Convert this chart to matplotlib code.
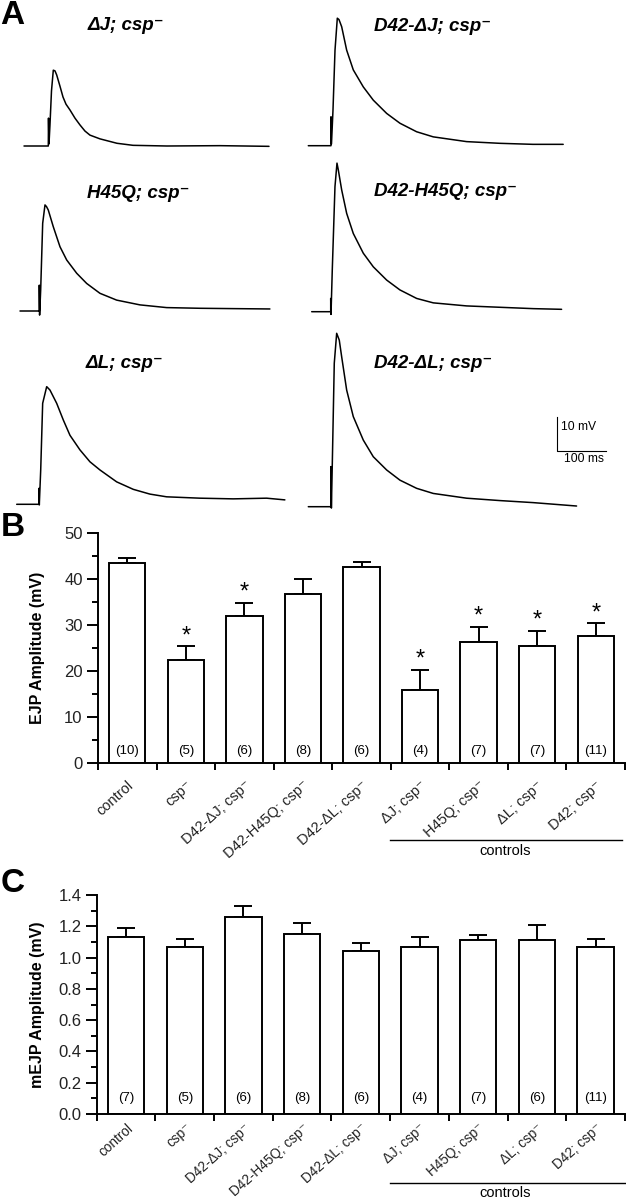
import matplotlib
matplotlib.use('Agg')
import matplotlib.pyplot as plt
from matplotlib.ticker import MultipleLocator, FormatStrFormatter
from matplotlib.lines import Line2D

plt.rcParams['font.family'] = ['Liberation Sans', 'DejaVu Sans']

W, H = 626, 1200
MS_PER_PX = 100 / 49.
MV_PER_PX = 10 / 34.

# Panel A: example EJP traces, time (ms) from trace start, mV above baseline
dj_t = [0, 49.6, 50.0, 51.0, 53.0, 56.1, 59.8, 63.2, 66.7, 73.4, 79.6, 85.7,
        93.8, 104, 114.2, 124.4, 134.6, 155, 189.7, 222.4, 291.7, 399.8, 500]
dj_v = [0, 0, 8.2, 0.6, 6.2, 16.2, 22.3, 22.1, 20.9, 17.6, 14.4, 12.3,
        10.6, 8.2, 6.2, 4.4, 3.2, 2.1, 0.8, 0.2, 0, 0.1, -0.1]

d42dj_t = [0, 46.3, 46.3, 47.3, 50.4, 54.5, 59.2, 62.6, 68.1, 78.3, 91.8,
           112.2, 132.6, 159.9, 187.1, 221.1, 255, 323.1, 391.1, 458.4, 520.2]
d42dj_v = [0, 0, 8.5, 0.5, 10.5, 28.1, 37.5, 37.1, 35.0, 28.1, 22.3,
           17.3, 13.4, 9.5, 6.6, 4.1, 2.6, 1.2, 0.7, 0.4, 0.4]

h45q_t = [0, 39.4, 39.4, 40.0, 42.2, 46.3, 51, 54.1, 57.7, 67.9, 81.6, 95.3,
          115.7, 136.1, 163.2, 197.3, 244.8, 299.3, 367.2, 435.1, 510]
h45q_v = [0, 0, 7.6, -1.2, 6.2, 25.8, 31.2, 30.7, 29.7, 24.8, 18.9, 15.0,
          11.1, 8.1, 5.2, 3.2, 1.8, 1.0, 0.8, 0.7, 0.6]

d42h45q_t = [0, 38.8, 38.8, 39.4, 42.0, 47.5, 51.6, 54.3, 61.2, 71.4, 84.9,
             105.3, 125.7, 153, 180.1, 214.2, 248.1, 316.2, 384.1, 452.1, 510]
d42h45q_v = [0, 0, 3.9, -0.8, 12.3, 36.8, 43.7, 41.7, 35.8, 28.9, 23.0,
             17.2, 13.2, 9.3, 6.4, 3.9, 2.6, 1.7, 1.3, 0.9, 0.7]

dl_t = [0, 45.5, 45.5, 46.1, 49, 53, 61.2, 67.9, 81.6, 95.1, 108.7, 129.1,
        149.5, 169.9, 204, 237.9, 271.9, 306, 374, 441.9, 510, 547.3]
dl_v = [0, 0, 4.7, -0.2, 10.1, 29.7, 34.6, 33.6, 29.7, 24.8, 20.3, 16,
        12.5, 10.1, 6.6, 4.4, 3.0, 2.2, 1.8, 1.6, 1.8, 1.3]

d42dl_t = [0, 46.3, 46.3, 47.1, 49, 53, 57.9, 63.2, 68.1, 78.3, 91.8, 112.2,
           132.6, 159.9, 187.1, 221.1, 255, 323.1, 391.1, 459, 547.5]
d42dl_v = [0, 0, 11.8, -0.4, 12.8, 42.2, 51, 49, 44.1, 34.3, 26.5, 19.6,
           14.7, 10.8, 7.8, 5.4, 3.9, 2.5, 1.8, 1.2, 0.2]

trace_labels = ['\u0394J; csp\u207b', 'D42-\u0394J; csp\u207b',
                'H45Q; csp\u207b', 'D42-H45Q; csp\u207b',
                '\u0394L; csp\u207b', 'D42-\u0394L; csp\u207b']

# Panels B and C
genotypes = ['control', 'csp\u207b', 'D42-\u0394J; csp\u207b',
             'D42-H45Q; csp\u207b', 'D42-\u0394L; csp\u207b',
             '\u0394J; csp\u207b', 'H45Q; csp\u207b', '\u0394L; csp\u207b',
             'D42; csp\u207b']
ejp_mean = [43.5, 22.3, 32.0, 36.8, 42.7, 15.9, 26.2, 25.4, 27.7]
ejp_sem = [1.1, 3.1, 2.8, 3.1, 1.1, 4.3, 3.4, 3.4, 2.7]
ejp_n = [10, 5, 6, 8, 6, 4, 7, 7, 11]
ejp_sig = [False, True, True, False, False, True, True, True, True]

mejp_mean = [1.13, 1.07, 1.26, 1.15, 1.04, 1.07, 1.11, 1.11, 1.07]
mejp_sem = [0.06, 0.05, 0.07, 0.07, 0.05, 0.06, 0.035, 0.10, 0.05]
mejp_n = [7, 5, 6, 8, 6, 4, 7, 6, 11]


def box(left, top, right, bottom):
    return [left / W, 1 - bottom / H, (right - left) / W, (bottom - top) / H]


def fx(px):
    return px / W


def fy(py):
    return 1 - py / H


fig = plt.figure(figsize=(W / 100., H / 100.), dpi=100)

# ---- panel A ----
axA = fig.add_axes(box(0, 0, W, 520))
axA.set_xlim(0, W * MS_PER_PX)
axA.set_ylim(-520 * MV_PER_PX, 0)
axA.axis('off')

traces = [(dj_t, dj_v), (d42dj_t, d42dj_v), (h45q_t, h45q_v),
          (d42h45q_t, d42h45q_v), (dl_t, dl_v), (d42dl_t, d42dl_v)]
starts = [(24, 146), (308.3, 145.7), (20, 311), (311.7, 311.7),
          (16.7, 504.3), (308.3, 506.7)]
label_pos = [(88, 25), (374, 26.7), (87, 193), (374, 191.7), (86, 363), (374, 363)]

for (t, v), (x0, y0), lab, (lx, ly) in zip(traces, starts, trace_labels, label_pos):
    axA.plot([x0 * MS_PER_PX + ti for ti in t],
             [-y0 * MV_PER_PX + vi for vi in v], color='black', lw=1.1,
             solid_joinstyle='round', solid_capstyle='round')
    fig.text(fx(lx), fy(ly), lab, fontsize=13.5, fontweight='bold',
             fontstyle='italic', ha='left', va='center')

# scale bar
cx, cy = 557 * MS_PER_PX, -451 * MV_PER_PX
axA.plot([cx, cx, cx + 100], [cy + 10, cy, cy], color='black', lw=0.8)
fig.text(fx(561), fy(427), '10 mV', fontsize=8.7, ha='left', va='center')
fig.text(fx(564), fy(459), '100 ms', fontsize=8.7, ha='left', va='center')

fig.text(fx(0), fy(15), 'A', fontsize=24, fontweight='bold', va='center')
fig.text(fx(1), fy(528), 'B', fontsize=24, fontweight='bold', va='center')
fig.text(fx(1), fy(884), 'C', fontsize=24, fontweight='bold', va='center')


def bar_panel(ax, means, sems, ns, sig, ymax, major, minor, fmt, ylabel,
              n_pad, star_off, label_x, xpad, xsize):
    n = len(means)
    x = list(range(n))
    ax.errorbar(x, means, yerr=[[0] * n, sems], fmt='none', ecolor='black',
                elinewidth=1.4, capsize=6.5, capthick=1.4, zorder=1)
    ax.bar(x, means, width=0.62, color='white', edgecolor='black',
           linewidth=1.4, zorder=2)
    for i in range(n):
        ax.annotate('(%d)' % ns[i], xy=(i, 0), xycoords=('data', 'axes fraction'),
                    xytext=(0, n_pad), textcoords='offset pixels',
                    ha='center', va='center', fontsize=9.5, zorder=3)
        if sig[i]:
            ax.text(i, means[i] + sems[i] + star_off, '*', ha='center',
                    va='center', fontsize=17)
    ax.set_xlim(-0.5, n - 0.5)
    ax.set_ylim(0, ymax)
    for s in ['top', 'right']:
        ax.spines[s].set_visible(False)
    for s in ['left', 'bottom']:
        ax.spines[s].set_linewidth(1.4)
    ax.set_xticks([i - 0.5 for i in range(n + 1)])
    ax.set_xticklabels([''] * (n + 1))
    ax.set_xticks(x, minor=True)
    ax.set_xticklabels(genotypes, minor=True, rotation=42, ha='right',
                       rotation_mode='anchor', fontsize=xsize, color='#222222')
    ax.tick_params(axis='x', which='major', length=5, width=1.4, direction='out')
    ax.tick_params(axis='x', which='minor', length=0, pad=xpad)
    ax.yaxis.set_major_locator(MultipleLocator(major))
    ax.yaxis.set_minor_locator(MultipleLocator(minor))
    ax.yaxis.set_major_formatter(FormatStrFormatter(fmt))
    ax.tick_params(axis='y', which='major', length=8, width=1.4, pad=3,
                   labelsize=12, labelcolor='#222222')
    ax.tick_params(axis='y', which='minor', length=4, width=1.4)
    ax.set_ylabel(ylabel, fontsize=11.5, fontweight='bold')
    ax.yaxis.set_label_coords(label_x, 0.5)


axB = fig.add_axes(box(98, 533, 625, 763))
bar_panel(axB, ejp_mean, ejp_sem, ejp_n, ejp_sig, 50, 10, 5, '%d',
          'EJP Amplitude (mV)', 12, 2.2, -0.10, 11, 10.5)

axC = fig.add_axes(box(96.7, 895, 625, 1114))
bar_panel(axC, mejp_mean, mejp_sem, mejp_n, [False] * 9, 1.4, 0.2, 0.1, '%.1f',
          'mEJP Amplitude (mV)', 16, 0, -0.098, 5, 9.8)

# "controls" brackets
fig.add_artist(Line2D([fx(390), fx(622)], [fy(840), fy(840)], color='black', lw=1.0))
fig.text(fx(505), fy(851), 'controls', fontsize=10.5, ha='center', va='center')
fig.add_artist(Line2D([fx(390), fx(625)], [fy(1183), fy(1183)], color='black', lw=1.0))
fig.text(fx(505), fy(1193), 'controls', fontsize=10.5, ha='center', va='center')

fig.savefig('out.png', dpi=100)
